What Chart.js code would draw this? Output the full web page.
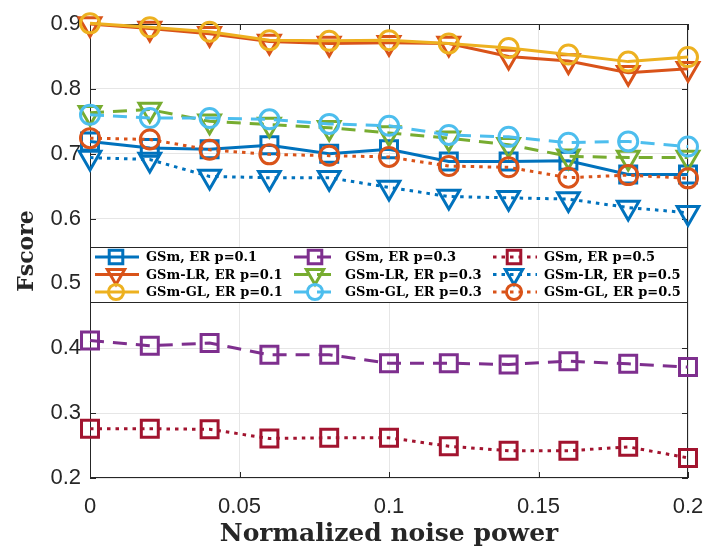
<!DOCTYPE html>
<html>
<head>
<meta charset="utf-8">
<script src="https://cdn.jsdelivr.net/npm/chart.js@4/dist/chart.umd.min.js"></script>
<style>
  html, body { margin: 0; padding: 0; background: #fff; }
  canvas { display: block; }
</style>
</head>
<body>
<canvas id="myChart" width="707" height="549"></canvas>
<script>
const ctx = document.getElementById("myChart");

// x values (normalized noise power)
const noise = [0, 0.02, 0.04, 0.06, 0.08, 0.1, 0.12, 0.14, 0.16, 0.18, 0.2];
const xTicks = [0, 0.05, 0.1, 0.15, 0.2];
const yTicks = [0.2, 0.3, 0.4, 0.5, 0.6, 0.7, 0.8, 0.9];

const methods = ["GSm", "GSm-LR", "GSm-GL"];
const probs = ["0.1", "0.3", "0.5"];

// Fscore, one array per method / edge probability
const gsm01 = [0.719, 0.709, 0.707, 0.713, 0.700, 0.707, 0.688, 0.688, 0.689, 0.668, 0.668];
const lr01  = [0.900, 0.893, 0.885, 0.873, 0.870, 0.871, 0.870, 0.850, 0.843, 0.825, 0.831];
const gl01  = [0.901, 0.895, 0.888, 0.875, 0.874, 0.875, 0.870, 0.863, 0.853, 0.842, 0.849];
const gsm03 = [0.412, 0.404, 0.408, 0.390, 0.390, 0.377, 0.377, 0.375, 0.380, 0.376, 0.371];
const lr03  = [0.763, 0.768, 0.750, 0.745, 0.740, 0.732, 0.724, 0.714, 0.696, 0.694, 0.694];
const gl03  = [0.760, 0.755, 0.755, 0.753, 0.746, 0.743, 0.729, 0.726, 0.717, 0.719, 0.711];
const gsm05 = [0.276, 0.276, 0.275, 0.261, 0.262, 0.262, 0.249, 0.242, 0.242, 0.248, 0.231];
const lr05  = [0.694, 0.691, 0.665, 0.663, 0.663, 0.648, 0.634, 0.632, 0.630, 0.617, 0.609];
const gl05  = [0.724, 0.722, 0.706, 0.699, 0.697, 0.695, 0.681, 0.679, 0.663, 0.667, 0.662];

const series = [gsm01, lr01, gl01, gsm03, lr03, gl03, gsm05, lr05, gl05];
const colors = ["#0072BD", "#D95319", "#EDB120", "#7E2F8E", "#77AC30", "#4DBEEE", "#A2142F", "#0072BD", "#D95319"];
const dashes = [[], [14, 9], [3.5, 5]];
const markers = [
  { pointStyle: "rect", radius: 12, rotation: 0 },
  { pointStyle: "triangle", radius: 12.5, rotation: 180 },
  { pointStyle: "circle", radius: 9.5, rotation: 0 },
];

const datasets = series.map((vals, i) => {
  const m = markers[i % 3];
  const p = Math.floor(i / 3);
  return {
    label: methods[i % 3] + ", ER p=" + probs[p],
    data: vals.map((v, k) => ({ x: noise[k], y: v })),
    borderColor: colors[i],
    backgroundColor: "rgba(0,0,0,0)",
    borderWidth: 3,
    borderDash: dashes[p],
    pointStyle: m.pointStyle,
    pointRadius: m.radius,
    pointRotation: m.rotation,
    pointBorderWidth: 3,
    pointBackgroundColor: "rgba(0,0,0,0)",
    pointBorderColor: colors[i],
    tension: 0,
    clip: false,
    order: series.length - i,
  };
});

// box + inward ticks like the original figure
const framePlugin = {
  id: "frame",
  beforeDatasetsDraw(chart) {
    const { ctx, chartArea: a, scales } = chart;
    ctx.save();
    ctx.strokeStyle = "#262626";
    ctx.lineWidth = 1;
    ctx.strokeRect(a.left + 0.5, a.top + 0.5, a.right - a.left - 1, a.bottom - a.top - 1);
    ctx.beginPath();
    xTicks.forEach((t) => {
      const px = Math.round(scales.x.getPixelForValue(t)) + 0.5;
      ctx.moveTo(px, a.bottom); ctx.lineTo(px, a.bottom - 6);
      ctx.moveTo(px, a.top); ctx.lineTo(px, a.top + 6);
    });
    yTicks.forEach((t) => {
      const py = Math.round(scales.y.getPixelForValue(t)) + 0.5;
      ctx.moveTo(a.left, py); ctx.lineTo(a.left + 6, py);
      ctx.moveTo(a.right, py); ctx.lineTo(a.right - 6, py);
    });
    ctx.stroke();
    ctx.restore();
  },
};

// legend box drawn inside the axes, 3 columns
const legendPlugin = {
  id: "boxLegend",
  afterDatasetsDraw(chart) {
    const { ctx, chartArea: a } = chart;
    const top = a.top + 223;
    const h = 55;
    ctx.save();
    ctx.fillStyle = "#fff";
    ctx.fillRect(a.left, top, a.right - a.left, h);
    ctx.strokeStyle = "#262626";
    ctx.lineWidth = 1;
    ctx.strokeRect(a.left + 0.5, top + 0.5, a.right - a.left - 1, h);
    ctx.font = "bold 13px 'DejaVu Serif'";
    ctx.textBaseline = "middle";
    chart.data.datasets.forEach((ds, i) => {
      const col = Math.floor(i / 3);
      const row = i % 3;
      const x0 = a.left + 5 + col * 199;
      const y0 = top + 10 + row * 17.5;
      ctx.strokeStyle = ds.borderColor;
      ctx.lineWidth = 3;
      ctx.setLineDash(ds.borderDash);
      ctx.beginPath();
      ctx.moveTo(x0, y0);
      ctx.lineTo(x0 + 44, y0);
      ctx.stroke();
      ctx.setLineDash([]);
      ctx.fillStyle = "rgba(0,0,0,0)";
      Chart.helpers.drawPoint(ctx, {
        pointStyle: ds.pointStyle,
        radius: ds.pointRadius * 0.8,
        rotation: ds.pointRotation,
        borderWidth: 3,
      }, x0 + 21, y0);
      ctx.fillStyle = "#000";
      ctx.fillText(ds.label, x0 + 51, y0 + 1);
    });
    ctx.restore();
  },
};

const myChart = new Chart(ctx, {
  type: "line",
  data: { datasets: datasets },
  options: {
    responsive: false,
    animation: false,
    devicePixelRatio: 1,
    layout: { padding: { top: 24, right: 19, left: 0, bottom: 0 } },
    plugins: {
      legend: { display: false },
      tooltip: { enabled: false },
    },
    scales: {
      x: {
        type: "linear",
        min: 0,
        max: 0.2,
        afterFit: (s) => { s.height = 71; s.paddingLeft = 0; s.paddingRight = 0; },
        afterBuildTicks: (s) => { s.ticks = xTicks.map((v) => ({ value: v })); },
        grid: { color: "#e6e6e6", drawTicks: false, lineWidth: 1 },
        border: { display: false },
        ticks: {
          padding: 16,
          color: "#262626",
          font: { family: "'Liberation Sans'", size: 22 },
          callback: (v) => String(Math.round(v * 100) / 100),
        },
        title: {
          display: true,
          text: "Normalized noise power",
          color: "#262626",
          font: { family: "'DejaVu Serif'", size: 25, weight: "bold", lineHeight: 1.2 },
          padding: { top: 0, bottom: 0 },
        },
      },
      y: {
        type: "linear",
        min: 0.2,
        max: 0.9,
        afterFit: (s) => { s.width = 90; },
        afterBuildTicks: (s) => { s.ticks = yTicks.map((v) => ({ value: v })); },
        grid: { color: "#e6e6e6", drawTicks: false, lineWidth: 1 },
        border: { display: false },
        ticks: {
          padding: 9,
          color: "#262626",
          font: { family: "'Liberation Sans'", size: 22 },
          callback: (v) => String(Math.round(v * 10) / 10),
        },
        title: {
          display: true,
          text: "Fscore",
          color: "#262626",
          font: { family: "'DejaVu Serif'", size: 22, weight: "bold", lineHeight: 1.2 },
          padding: { top: 14, bottom: 0 },
        },
      },
    },
  },
  plugins: [framePlugin, legendPlugin],
});
</script>
</body>
</html>
